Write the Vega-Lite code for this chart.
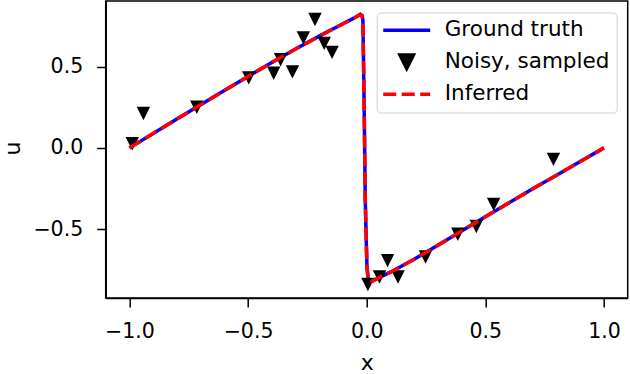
{
  "$schema": "https://vega.github.io/schema/vega-lite/v6.json",
  "width": 522,
  "height": 297,
  "autosize": {"type": "none"},
  "padding": {"left": 105.7, "top": 1, "right": 2.3, "bottom": 76},
  "background": "white",
  "config": {
    "view": {"stroke": "black", "strokeWidth": 1.5},
    "font": "DejaVu Sans",
    "axis": {
      "grid": false, "domainColor": "black", "domainWidth": 1.5,
      "tickColor": "black", "tickWidth": 1.5, "tickSize": 9,
      "labelColor": "black", "labelFontSize": 20.5, "labelFont": "DejaVu Sans",
      "titleFont": "DejaVu Sans", "titleFontSize": 22, "titleFontWeight": "normal", "titleColor": "black"
    }
  },
  "datasets": {
    "truth": [
      {"x": -1.0, "u": 0.0, "series": "Ground truth"},
      {"x": -0.9, "u": 0.088, "series": "Ground truth"},
      {"x": -0.8, "u": 0.177, "series": "Ground truth"},
      {"x": -0.7, "u": 0.265, "series": "Ground truth"},
      {"x": -0.6, "u": 0.353, "series": "Ground truth"},
      {"x": -0.5, "u": 0.44, "series": "Ground truth"},
      {"x": -0.4, "u": 0.525, "series": "Ground truth"},
      {"x": -0.3, "u": 0.608, "series": "Ground truth"},
      {"x": -0.2, "u": 0.688, "series": "Ground truth"},
      {"x": -0.1, "u": 0.764, "series": "Ground truth"},
      {"x": -0.06, "u": 0.794, "series": "Ground truth"},
      {"x": -0.04, "u": 0.81, "series": "Ground truth"},
      {"x": -0.027, "u": 0.822, "series": "Ground truth"},
      {"x": -0.02, "u": 0.815, "series": "Ground truth"},
      {"x": -0.016, "u": 0.787, "series": "Ground truth"},
      {"x": -0.011, "u": 0.293, "series": "Ground truth"},
      {"x": -0.006, "u": -0.323, "series": "Ground truth"},
      {"x": 0.001, "u": -0.733, "series": "Ground truth"},
      {"x": 0.006, "u": -0.805, "series": "Ground truth"},
      {"x": 0.016, "u": -0.826, "series": "Ground truth"},
      {"x": 0.05, "u": -0.8, "series": "Ground truth"},
      {"x": 0.1, "u": -0.765, "series": "Ground truth"},
      {"x": 0.2, "u": -0.685, "series": "Ground truth"},
      {"x": 0.3, "u": -0.6, "series": "Ground truth"},
      {"x": 0.4, "u": -0.512, "series": "Ground truth"},
      {"x": 0.5, "u": -0.424, "series": "Ground truth"},
      {"x": 0.6, "u": -0.338, "series": "Ground truth"},
      {"x": 0.7, "u": -0.252, "series": "Ground truth"},
      {"x": 0.8, "u": -0.168, "series": "Ground truth"},
      {"x": 0.9, "u": -0.084, "series": "Ground truth"},
      {"x": 1.0, "u": 0.0, "series": "Ground truth"}
    ],
    "noisy": [
      {"x": -0.988, "u": 0.025, "series": "Noisy, sampled"},
      {"x": -0.941, "u": 0.212, "series": "Noisy, sampled"},
      {"x": -0.716, "u": 0.25, "series": "Noisy, sampled"},
      {"x": -0.497, "u": 0.431, "series": "Noisy, sampled"},
      {"x": -0.392, "u": 0.459, "series": "Noisy, sampled"},
      {"x": -0.363, "u": 0.542, "series": "Noisy, sampled"},
      {"x": -0.313, "u": 0.468, "series": "Noisy, sampled"},
      {"x": -0.267, "u": 0.677, "series": "Noisy, sampled"},
      {"x": -0.218, "u": 0.79, "series": "Noisy, sampled"},
      {"x": -0.179, "u": 0.643, "series": "Noisy, sampled"},
      {"x": -0.146, "u": 0.588, "series": "Noisy, sampled"},
      {"x": 0.005, "u": -0.841, "series": "Noisy, sampled"},
      {"x": 0.054, "u": -0.795, "series": "Noisy, sampled"},
      {"x": 0.088, "u": -0.694, "series": "Noisy, sampled"},
      {"x": 0.132, "u": -0.795, "series": "Noisy, sampled"},
      {"x": 0.248, "u": -0.672, "series": "Noisy, sampled"},
      {"x": 0.384, "u": -0.532, "series": "Noisy, sampled"},
      {"x": 0.462, "u": -0.484, "series": "Noisy, sampled"},
      {"x": 0.535, "u": -0.348, "series": "Noisy, sampled"},
      {"x": 0.787, "u": -0.071, "series": "Noisy, sampled"}
    ],
    "inferred": [
      {"x": -1.0, "u": 0.0, "series": "Inferred"},
      {"x": -0.9, "u": 0.088, "series": "Inferred"},
      {"x": -0.8, "u": 0.177, "series": "Inferred"},
      {"x": -0.7, "u": 0.265, "series": "Inferred"},
      {"x": -0.6, "u": 0.353, "series": "Inferred"},
      {"x": -0.5, "u": 0.44, "series": "Inferred"},
      {"x": -0.4, "u": 0.525, "series": "Inferred"},
      {"x": -0.3, "u": 0.608, "series": "Inferred"},
      {"x": -0.2, "u": 0.688, "series": "Inferred"},
      {"x": -0.1, "u": 0.764, "series": "Inferred"},
      {"x": -0.06, "u": 0.794, "series": "Inferred"},
      {"x": -0.04, "u": 0.81, "series": "Inferred"},
      {"x": -0.027, "u": 0.822, "series": "Inferred"},
      {"x": -0.02, "u": 0.815, "series": "Inferred"},
      {"x": -0.016, "u": 0.787, "series": "Inferred"},
      {"x": -0.011, "u": 0.293, "series": "Inferred"},
      {"x": -0.006, "u": -0.323, "series": "Inferred"},
      {"x": 0.001, "u": -0.733, "series": "Inferred"},
      {"x": 0.006, "u": -0.805, "series": "Inferred"},
      {"x": 0.016, "u": -0.826, "series": "Inferred"},
      {"x": 0.05, "u": -0.8, "series": "Inferred"},
      {"x": 0.1, "u": -0.765, "series": "Inferred"},
      {"x": 0.2, "u": -0.685, "series": "Inferred"},
      {"x": 0.3, "u": -0.6, "series": "Inferred"},
      {"x": 0.4, "u": -0.512, "series": "Inferred"},
      {"x": 0.5, "u": -0.424, "series": "Inferred"},
      {"x": 0.6, "u": -0.338, "series": "Inferred"},
      {"x": 0.7, "u": -0.252, "series": "Inferred"},
      {"x": 0.8, "u": -0.168, "series": "Inferred"},
      {"x": 0.9, "u": -0.084, "series": "Inferred"},
      {"x": 1.0, "u": 0.0, "series": "Inferred"}
    ]
  },
  "encoding": {
    "x": {
      "field": "x", "type": "quantitative",
      "scale": {"domain": [-1.1, 1.1], "nice": false, "zero": false},
      "axis": {"values": [-1, -0.5, 0, 0.5, 1], "format": ".1f", "labelPadding": 14, "title": "x", "titleY": 71, "titleBaseline": "alphabetic"}
    },
    "y": {
      "field": "u", "type": "quantitative",
      "scale": {"domain": [-0.924, 0.904], "nice": false, "zero": false},
      "axis": {"values": [-0.5, 0, 0.5], "format": ".1f", "labelPadding": 14, "title": "u", "titleAngle": 270, "titleX": -86, "titleY": 147, "titleBaseline": "alphabetic", "titleAlign": "center"}
    },
    "color": {
      "field": "series", "type": "nominal",
      "scale": {"domain": ["Ground truth", "Noisy, sampled", "Inferred"], "range": ["#0000ff", "#000000", "#ff0000"]},
      "legend": {
        "title": null,
        "orient": "none",
        "legendX": 271, "legendY": 11.5,
        "direction": "vertical",
        "padding": 7,
        "fillColor": "rgba(255,255,255,0.8)",
        "strokeColor": "#d0d0d0",
        "cornerRadius": 4,
        "labelFontSize": 21.5, "labelFont": "DejaVu Sans", "labelColor": "black",
        "symbolSize": 180, "symbolStrokeWidth": 3.5,
        "labelOffset": 39.5,
        "rowPadding": 6.5,
        "labelLimit": 300,
        "encode": {
          "symbols": {
            "update": {
              "shape": {"signal": "datum.value === 'Noisy, sampled' ? 'M0,1L-1,-1L1,-1Z' : 'M-3.5,0L3.5,0'"},
              "fill": {"signal": "datum.value === 'Noisy, sampled' ? 'black' : 'transparent'"},
              "stroke": {"signal": "datum.value === 'Ground truth' ? '#0000ff' : datum.value === 'Inferred' ? '#ff0000' : 'transparent'"},
              "strokeDash": {"signal": "datum.value === 'Inferred' ? [13, 5.5] : [1, 0]"},
              "strokeWidth": {"value": 3.5},
              "x": {"value": 23},
              "opacity": {"value": 1}
            }
          }
        }
      }
    }
  },
  "layer": [
    {"data": {"name": "truth"}, "mark": {"type": "line", "strokeWidth": 3.5}},
    {"data": {"name": "noisy"}, "mark": {"type": "point", "shape": "M0,1L-1,-1L1,-1Z", "filled": true, "size": 180, "opacity": 1}},
    {"data": {"name": "inferred"}, "mark": {"type": "line", "strokeWidth": 3.5, "strokeDash": [13, 5.5]}}
  ]
}
